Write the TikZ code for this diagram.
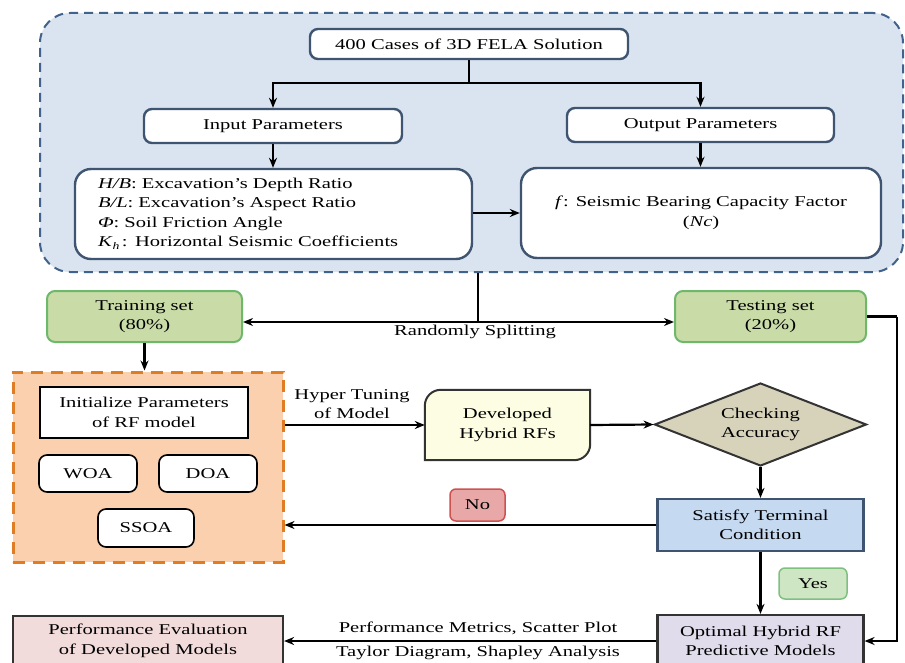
\documentclass[tikz,border=0pt]{standalone}
\usepackage{fontspec}
\setmainfont{Liberation Serif}[FakeStretch=1.37]
\usetikzlibrary{arrows.meta,shapes.geometric,backgrounds}
\definecolor{bigfill}{HTML}{DAE3F0}
\definecolor{bigline}{HTML}{41628A}
\definecolor{boxline}{HTML}{3E5470}
\definecolor{trfill}{HTML}{C9DCA8}
\definecolor{trline}{HTML}{6DB86A}
\definecolor{nofill}{HTML}{E8A8A8}
\definecolor{noline}{HTML}{D05050}
\definecolor{yesfill}{HTML}{CFE6C4}
\definecolor{yesline}{HTML}{7FC07F}
\definecolor{optfill}{HTML}{E0DCEC}
\definecolor{orfill}{HTML}{FAD0AE}
\definecolor{orline}{HTML}{E07C24}
\definecolor{perffill}{HTML}{F2DCDB}
\definecolor{satfill}{HTML}{C5D9F1}
\definecolor{devfill}{HTML}{FDFDE3}
\definecolor{chkfill}{HTML}{D7D2BA}
\definecolor{darkline}{HTML}{333333}
\begin{document}
\begin{tikzpicture}[x=1pt,y=-1pt,
  every node/.style={font=\fontsize{15}{19.5}\selectfont, inner sep=0pt, align=center},
  whitebox/.style={draw=boxline, line width=2.4pt, fill=white, rounded corners=8pt},
  arr/.style={line width=2.2pt, -{Stealth[length=10pt,width=8pt]}},
  ln/.style={line width=2.2pt}]
\useasboundingbox (0,0) rectangle (905,663);
% big blue dashed region
\node[draw=bigline, fill=bigfill, line width=2pt, dash pattern=on 9pt off 6pt, rounded corners=30pt,
  minimum width=863pt, minimum height=259pt] (big) at (471.5,142.5) {};
\node[whitebox, minimum width=318pt, minimum height=30pt] (cases) at (469,44) {400 Cases of 3D FELA Solution};
\node[whitebox, minimum width=258pt, minimum height=34pt] (inp) at (273,126) {Input Parameters};
\node[whitebox, minimum width=267pt, minimum height=34pt] (outp) at (700.5,125) {Output Parameters};
\node[whitebox, rounded corners=16pt, minimum width=397pt, minimum height=90pt, text width=351pt, align=left] (list) at (273.5,214)
  {\textit{H/B}: Excavation’s Depth Ratio\\
   \textit{B/L}: Excavation’s Aspect Ratio\\
   \textit{Φ}: Soil Friction Angle\\
   \textit{K}\raisebox{-3pt}{\fontsize{10}{10}\selectfont\textit{h}}\,: Horizontal Seismic Coefficients};
\node[whitebox, rounded corners=16pt, minimum width=360pt, minimum height=90pt] (outbox) at (701,213)
  {\textit{f}: Seismic Bearing Capacity Factor\\(\textit{Nc})};
% split
\node[draw=trline, fill=trfill, line width=2pt, rounded corners=8pt, minimum width=195pt, minimum height=51pt] (train) at (144.5,316.5) {Training set\\(80\%)};
\node[draw=trline, fill=trfill, line width=2pt, rounded corners=8pt, minimum width=191pt, minimum height=51pt] (test) at (770.5,316.5) {Testing set\\(20\%)};
\node (split) at (475,332) {Randomly Splitting};
% orange region
\node[draw=orline, fill=orfill, line width=3pt, dash pattern=on 12pt off 8pt, minimum width=270pt, minimum height=190pt] (orange) at (148,467) {};
\node[draw=black, fill=white, line width=2pt, minimum width=208pt, minimum height=51pt] (init) at (144,412.5) {Initialize Parameters\\of RF model};
\node[draw=black, fill=white, line width=1.6pt, rounded corners=8pt, minimum width=98pt, minimum height=37pt] (woa) at (88,473.5) {WOA};
\node[draw=black, fill=white, line width=1.6pt, rounded corners=8pt, minimum width=98pt, minimum height=37pt] (doa) at (208,473.5) {DOA};
\node[draw=black, fill=white, line width=1.6pt, rounded corners=8pt, minimum width=96pt, minimum height=38pt] (ssoa) at (146,528) {SSOA};
% tuning loop
\node (hyper) at (352,404) {Hyper Tuning\\of Model};
\node[minimum width=165pt, minimum height=70pt] (dev) at (507.5,425) {Developed\\Hybrid RFs};
\begin{pgfonlayer}{background}
\draw[draw=darkline, fill=devfill, line width=2pt]
  (dev.south west) -- ([yshift=-16pt]dev.north west) arc[start angle=180, end angle=90, radius=16pt]
  -- (dev.north east) -- ([yshift=16pt]dev.south east) arc[start angle=0, end angle=-90, radius=16pt] -- cycle;
\end{pgfonlayer}
\node[diamond, aspect=2.55, draw=darkline, fill=chkfill, line width=2pt, minimum width=212pt, minimum height=83pt] (chk) at (760.5,424.5) {Checking\\Accuracy};
\node[draw=boxline, fill=satfill, line width=2.2pt, minimum width=206pt, minimum height=52pt] (sat) at (760.5,525) {Satisfy Terminal\\Condition};
\node[draw=noline, fill=nofill, line width=1.5pt, rounded corners=6pt, minimum width=55pt, minimum height=32pt] (no) at (477.5,505) {No};
\node[draw=yesline, fill=yesfill, line width=1.5pt, rounded corners=6pt, minimum width=68pt, minimum height=31pt] (yes) at (813,583.5) {Yes};
\node[draw=darkline, fill=optfill, line width=2.2pt, minimum width=206pt, minimum height=52pt] (opt) at (760.5,641) {Optimal Hybrid RF\\Predictive Models};
\node[draw=darkline, fill=perffill, line width=2.2pt, minimum width=270pt, minimum height=50pt] (perf) at (148,641) {Performance Evaluation\\of Developed Models};
\node (metrics) at (478,628) {Performance Metrics, Scatter Plot};
\node (taylor) at (478,653) {Taylor Diagram, Shapley Analysis};
% connectors
\coordinate (br) at (469,83);
\draw[ln] (cases.south) -- (br);
\draw[arr] (br) -| (inp.north);
\draw[arr] (br) -| (outp.north);
\draw[arr] (inp.south) -- (inp.south |- list.north);
\draw[arr] (outp.south) -- (outp.south |- outbox.north);
\draw[arr] (list.east |- outbox.west) -- (outbox.west);
\coordinate (sp) at (478,322);
\draw[ln] (big.south -| sp) -- (sp);
\draw[arr] (sp) -- (sp -| train.east);
\draw[arr] (sp) -- (sp -| test.west);
\draw[arr] (train.south) -- (train.south |- orange.north);
\draw[arr] (orange.east |- dev.west) -- (dev.west);
\draw[arr] (dev.east) -- (chk.west);
\draw[arr] (chk.south) -- (sat.north);
\draw[arr] (sat.west) -- (orange.east |- sat.west);
\draw[arr] (sat.south) -- (opt.north);
\coordinate (rt) at (897,316.5);
\draw[ln] (test.east) -- (rt);
\draw[arr] (rt) |- (opt.east);
\draw[arr] (opt.west) -- (perf.east);
\end{tikzpicture}
\end{document}
